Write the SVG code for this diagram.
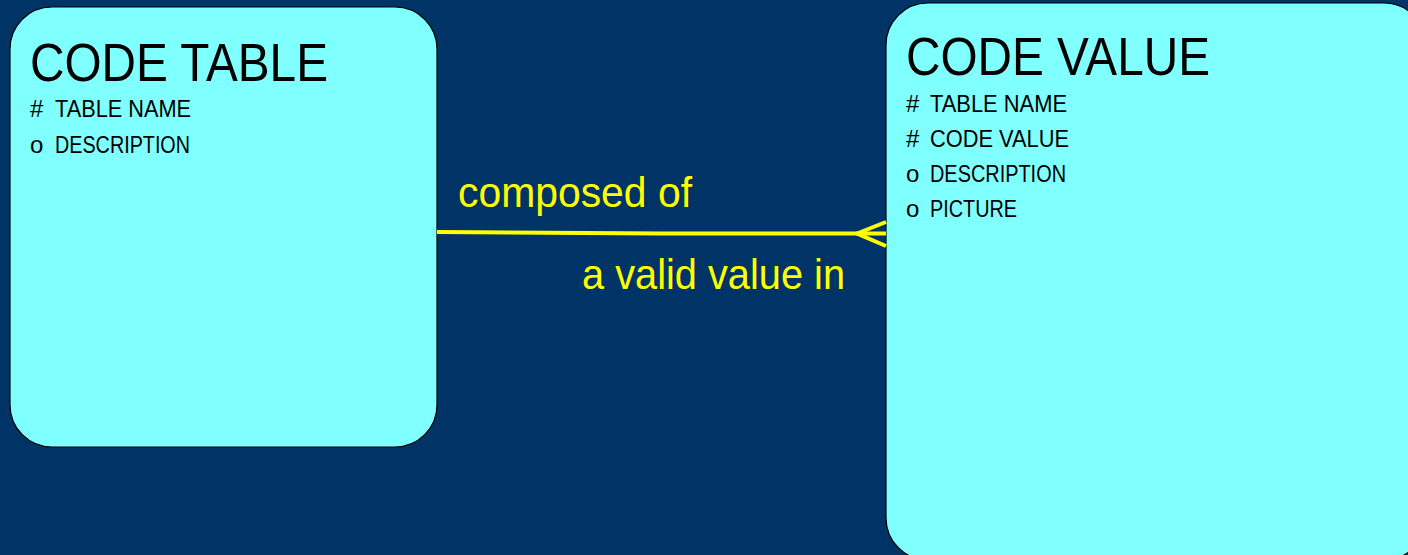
<svg xmlns="http://www.w3.org/2000/svg" width="1408" height="555" viewBox="0 0 1408 555">
<style>
.box{fill:#80FFFF;stroke:#000000;stroke-width:1.2}
.title{font-family:"Liberation Sans",Arial,sans-serif;font-size:54px;fill:#000}
.attr{font-family:"Liberation Sans",Arial,sans-serif;font-size:24px;fill:#000}
.lbl{font-family:"Liberation Sans",Arial,sans-serif;font-size:42px;fill:#FFFF00}
.rel{stroke:#FFFF00;stroke-width:4;fill:none}
</style>
<rect width="1408" height="555" fill="#003366"/>
<g id="code-table">
<rect class="box" x="10" y="7" width="427" height="440" rx="42" ry="42"/>
<text class="title" x="30" y="81" textLength="298" lengthAdjust="spacingAndGlyphs">CODE TABLE</text>
<text class="attr" x="30" y="117">#</text>
<text class="attr" x="55" y="117" textLength="136" lengthAdjust="spacingAndGlyphs">TABLE NAME</text>
<text class="attr" x="30" y="153">o</text>
<text class="attr" x="55" y="153" textLength="135" lengthAdjust="spacingAndGlyphs">DESCRIPTION</text>
</g>
<g id="code-value">
<rect class="box" x="886" y="3" width="540" height="557" rx="42" ry="42"/>
<text class="title" x="906" y="75" textLength="304" lengthAdjust="spacingAndGlyphs">CODE VALUE</text>
<text class="attr" x="906" y="112">#</text>
<text class="attr" x="930" y="112" textLength="137" lengthAdjust="spacingAndGlyphs">TABLE NAME</text>
<text class="attr" x="906" y="147">#</text>
<text class="attr" x="930" y="147" textLength="139" lengthAdjust="spacingAndGlyphs">CODE VALUE</text>
<text class="attr" x="906" y="182">o</text>
<text class="attr" x="930" y="182" textLength="136" lengthAdjust="spacingAndGlyphs">DESCRIPTION</text>
<text class="attr" x="906" y="217">o</text>
<text class="attr" x="930" y="217" textLength="87" lengthAdjust="spacingAndGlyphs">PICTURE</text>
</g>
<g id="connectors">
<path class="rel" d="M437,232 L662,233.5 L886,233.5"/>
<path class="rel" stroke-width="3.5" d="M886,222 L857,233.5 L886,246"/>
<text class="lbl" x="458" y="207" textLength="234" lengthAdjust="spacingAndGlyphs">composed of</text>
<text class="lbl" x="582" y="289" textLength="263" lengthAdjust="spacingAndGlyphs">a valid value in</text>
</g>
</svg>
